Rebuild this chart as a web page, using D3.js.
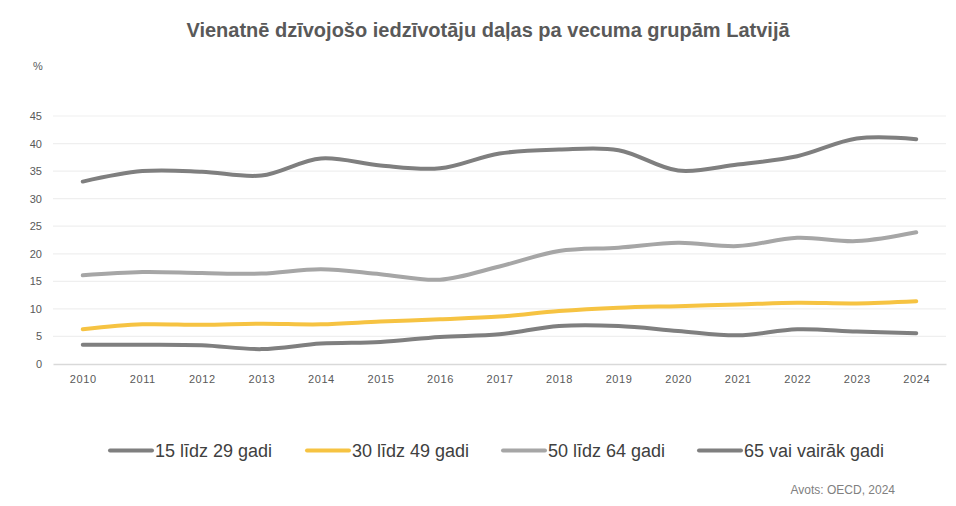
<!DOCTYPE html>
<html>
<head>
<meta charset="utf-8">
<script src="https://cdn.jsdelivr.net/npm/d3@7"></script>
<style>
  body { margin: 0; background: #fff; }
  text { font-family: "Liberation Sans", Arial, sans-serif; }
</style>
</head>
<body>
<div id="chart"></div>
<script>
// Data
var years = ["2010", "2011", "2012", "2013", "2014", "2015", "2016", "2017",
             "2018", "2019", "2020", "2021", "2022", "2023", "2024"];
var age15to29 = [33.1, 35.0, 34.9, 34.2, 37.3, 36.0, 35.5, 38.2, 38.9, 38.8, 35.1, 36.2, 37.7, 40.9, 40.8];
var age30to49 = [6.3, 7.2, 7.1, 7.3, 7.2, 7.7, 8.1, 8.6, 9.6, 10.2, 10.5, 10.8, 11.1, 11.0, 11.4];
var age50to64 = [16.1, 16.7, 16.5, 16.4, 17.2, 16.3, 15.3, 17.7, 20.5, 21.1, 22.0, 21.4, 22.9, 22.3, 23.9];
var age65plus = [3.5, 3.5, 3.4, 2.7, 3.7, 4.0, 4.9, 5.4, 6.9, 6.9, 6.0, 5.2, 6.3, 5.9, 5.6];
var yTicks = [0, 5, 10, 15, 20, 25, 30, 35, 40, 45];

var seriesNames = ["15 līdz 29 gadi", "30 līdz 49 gadi", "50 līdz 64 gadi", "65 vai vairāk gadi"];
var seriesColors = ["#7f7f7f", "#f6c342", "#a6a6a6", "#7f7f7f"];
var seriesValues = [age15to29, age30to49, age50to64, age65plus];

var W = 956, H = 506;
var margin = { top: 116, right: 10, bottom: 142, left: 53 },
    width = W - margin.left - margin.right,
    height = H - margin.top - margin.bottom;

var svg = d3.select("#chart")
  .append("svg")
    .attr("width", W)
    .attr("height", H);

svg.append("text")
  .attr("x", 488).attr("y", 37)
  .attr("text-anchor", "middle")
  .attr("font-size", 20).attr("font-weight", "bold")
  .attr("fill", "#595959")
  .text("Vienatnē dzīvojošo iedzīvotāju daļas pa vecuma grupām Latvijā");

svg.append("text")
  .attr("x", 38).attr("y", 70)
  .attr("text-anchor", "middle")
  .attr("font-size", 11).attr("fill", "#595959")
  .text("%");

var g = svg.append("g")
  .attr("transform", `translate(${margin.left},${margin.top})`);

var x = d3.scalePoint()
  .domain(years)
  .range([0, width])
  .padding(0.5);

var y = d3.scaleLinear()
  .domain([0, 45])
  .range([height, 0]);

// Gridlines
g.append("g")
  .selectAll("line")
  .data(yTicks.filter(function(d) { return d > 0; }))
  .enter().append("line")
    .attr("x1", 0).attr("x2", width)
    .attr("y1", function(d) { return y(d); })
    .attr("y2", function(d) { return y(d); })
    .attr("stroke", "#efefef")
    .attr("stroke-width", 1.2);

// Y axis labels
var yAxis = g.append("g")
  .call(d3.axisLeft(y).tickValues(yTicks).tickSize(0).tickPadding(11));
yAxis.select(".domain").remove();
yAxis.selectAll("text")
  .attr("font-size", 11).attr("fill", "#595959")
  .style("font-family", "'Liberation Sans', Arial, sans-serif");

// X axis
var xAxis = g.append("g")
  .attr("transform", `translate(0,${height})`)
  .call(d3.axisBottom(x).tickSize(0).tickPadding(11));
xAxis.select(".domain")
  .attr("stroke", "#d9d9d9").attr("stroke-width", 1.5);
xAxis.selectAll("text")
  .attr("font-size", 11).attr("fill", "#595959")
  .style("letter-spacing", "0.6px")
  .style("font-family", "'Liberation Sans', Arial, sans-serif");

// Lines
var line = d3.line()
  .x(function(d, i) { return x(years[i]); })
  .y(function(d) { return y(d); })
  .curve(d3.curveCatmullRom.alpha(0.5));

seriesValues.forEach(function(vals, i) {
  g.append("path")
    .datum(vals)
    .attr("fill", "none")
    .attr("stroke", seriesColors[i])
    .attr("stroke-width", 4)
    .attr("stroke-linecap", "round")
    .attr("d", line);
});

// Legend
var legendX = [110, 307, 503, 699];
var legend = svg.append("g");
seriesNames.forEach(function(name, i) {
  legend.append("line")
    .attr("x1", legendX[i]).attr("x2", legendX[i] + 42)
    .attr("y1", 450.5).attr("y2", 450.5)
    .attr("stroke", seriesColors[i])
    .attr("stroke-width", 4)
    .attr("stroke-linecap", "round");
  legend.append("text")
    .attr("x", legendX[i] + 45).attr("y", 457)
    .attr("font-size", 18).attr("fill", "#404040")
    .text(name);
});

svg.append("text")
  .attr("x", 895).attr("y", 494)
  .attr("text-anchor", "end")
  .attr("font-size", 12).attr("fill", "#808080")
  .text("Avots: OECD, 2024");
</script>
</body>
</html>
